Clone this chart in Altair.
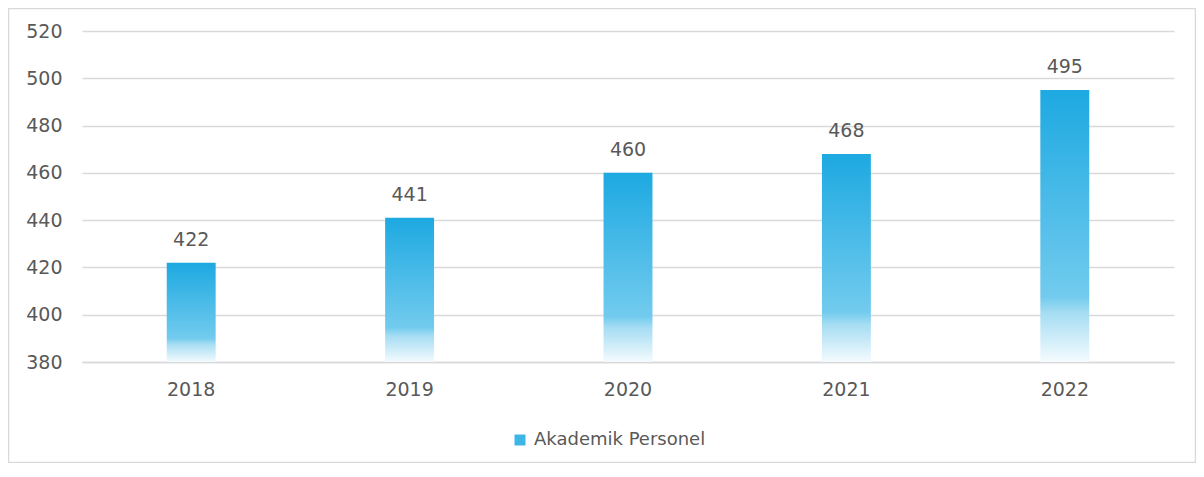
import altair as alt
import pandas as pd

years = ["2018", "2019", "2020", "2021", "2022"]
values = [422, 441, 460, 468, 495]
series = ["Akademik Personel"] * 5

df = pd.DataFrame({"year": years, "value": values, "series": series})

FONT = "DejaVu Sans"
TXT = "#595959"
GRID = "#d9d9d9"

grad = alt.LinearGradient(
    gradient="linear",
    stops=[
        alt.GradientStop(color="#1DA9E1", offset=0),
        alt.GradientStop(color="#72CBEE", offset=0.76),
        alt.GradientStop(color="#A6DDF3", offset=0.82),
        alt.GradientStop(color="#F4FBFE", offset=1),
    ],
    x1=0, x2=0, y1=0, y2=1,
)

x = alt.X(
    "year:N",
    title=None,
    scale=alt.Scale(paddingInner=0.776, paddingOuter=0.388),
    axis=alt.Axis(labelAngle=0, ticks=False, domain=True, domainColor=GRID,
                  domainWidth=1.5, labelPadding=18, labelFontSize=19,
                  labelFont=FONT, labelColor=TXT, grid=False),
)
y = alt.Y(
    "value:Q",
    title=None,
    scale=alt.Scale(domain=[380, 520], nice=False, zero=False),
    axis=alt.Axis(values=[380, 400, 420, 440, 460, 480, 500, 520], ticks=False,
                  domain=False, labelPadding=20, labelFontSize=19,
                  labelFont=FONT, labelColor=TXT, gridColor=GRID,
                  gridWidth=1.5),
)

base = alt.Chart(df)

bars = base.mark_bar(color=grad).encode(x=x, y=y, y2=alt.datum(380))

labels = base.mark_text(baseline="alphabetic", dy=-17, fontSize=19,
                        font=FONT, color=TXT).encode(
    x="year:N", y="value:Q", text="value:Q")

legend_layer = base.mark_square(opacity=0).encode(
    x="year:N", y="value:Q",
    color=alt.Color(
        "series:N",
        scale=alt.Scale(range=["#3DB5E6"]),
        legend=alt.Legend(
            title=None, orient="none", legendX=429, legendY=400,
            symbolType="square", symbolSize=121, symbolOpacity=1,
            symbolStrokeWidth=0, labelFontSize=18, labelFont=FONT,
            labelColor=TXT, labelOffset=5, padding=0, labelLimit=400,
        ),
    ),
)

border = alt.Chart(pd.DataFrame({"a": [0]})).mark_rect(
    filled=False, stroke=GRID, strokeWidth=1.5).encode(
    x=alt.value(-73.5), x2=alt.value(1113.5),
    y=alt.value(-22.5), y2=alt.value(431.5))

chart = alt.layer(bars, labels, legend_layer, border).properties(
    width=1092, height=331,
    background="white",
    autosize=alt.AutoSizeParams(type="none"),
    padding={"left": 74, "top": 23, "right": 22, "bottom": 101},
).configure_view(stroke=None, strokeWidth=0)

chart.save("out.html", embed_options={"renderer": "svg", "actions": False})
